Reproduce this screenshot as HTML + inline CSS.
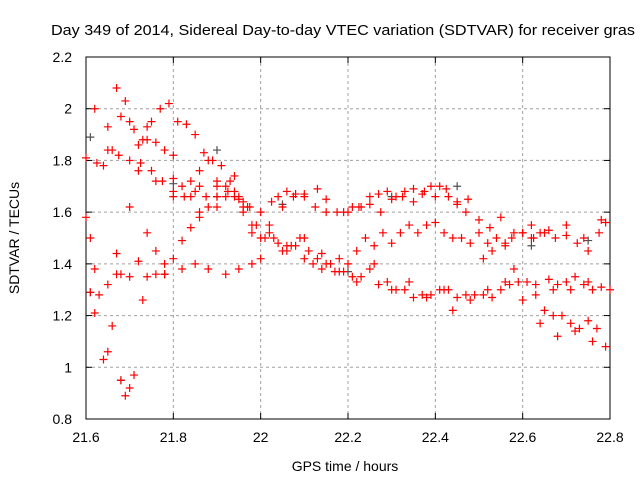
<!DOCTYPE html>
<html><head><meta charset="utf-8"><style>
body{margin:0;background:#fff;}
svg{display:block;font-family:"Liberation Sans",sans-serif;}
</style></head><body>
<svg id="chart" width="640" height="480">
<text x="51" y="35" font-size="15" textLength="584" lengthAdjust="spacingAndGlyphs" fill="#000">Day 349 of 2014, Sidereal Day-to-day VTEC variation (SDTVAR) for receiver gras</text>
<g id="grid"></g>
<g id="ticks"></g>
<rect x="86" y="57" width="524" height="362" fill="none" stroke="#000" stroke-width="1"/>
<g id="marks"></g>
<text x="345" y="471" font-size="14" text-anchor="middle">GPS time / hours</text>
<text transform="translate(19,238) rotate(-90)" font-size="14" text-anchor="middle">SDTVAR / TECUs</text>
</svg>
<script>
const xTicks=[21.6,21.8,22,22.2,22.4,22.6,22.8];
const xTickLabels=["21.6","21.8","22","22.2","22.4","22.6","22.8"];
const yTicks=[0.8,1,1.2,1.4,1.6,1.8,2,2.2];
const yTickLabels=["0.8","1","1.2","1.4","1.6","1.8","2","2.2"];
const s1x=[21.62,21.65,21.67,21.69,21.71,21.73,21.75,21.77,21.79,21.81,21.83,21.85,21.87,21.89,21.91,21.93,21.95,21.97,21.99,22.01,22.03,22.05,22.07,22.09,22.11,22.13,22.15,22.17,22.19,22.21,22.23,22.25,22.27,22.29,22.31,22.33,22.35,22.37,22.39,22.41,22.43,22.45,22.47,22.49,22.51,22.53,22.55,22.57,22.59,22.61,22.63,22.65,22.67,22.69,22.71,22.73,22.75,22.77,22.79];
const s1y=[2.0,1.93,2.08,2.03,1.92,1.88,1.95,2.0,2.02,1.95,1.94,1.9,1.83,1.8,1.78,1.72,1.65,1.62,1.55,1.5,1.5,1.45,1.47,1.5,1.45,1.42,1.4,1.37,1.37,1.35,1.35,1.38,1.32,1.33,1.3,1.3,1.27,1.28,1.28,1.3,1.3,1.27,1.28,1.28,1.28,1.27,1.3,1.32,1.33,1.33,1.28,1.22,1.2,1.2,1.17,1.15,1.18,1.15,1.08];
const s2x=[21.6,21.625,21.65,21.675,21.7,21.725,21.75,21.775,21.8,21.825,21.85,21.875,21.9,21.925,21.95,21.975,22.0,22.025,22.05,22.075,22.1,22.125,22.15,22.175,22.2,22.225,22.25,22.275,22.3,22.325,22.35,22.375,22.4,22.425,22.45,22.475,22.5,22.525,22.55,22.575,22.6,22.625,22.65,22.675,22.7,22.725,22.75,22.775,22.79];
const s2y=[1.81,1.79,1.84,1.82,1.8,1.79,1.76,1.72,1.68,1.66,1.68,1.66,1.7,1.68,1.66,1.62,1.6,1.64,1.62,1.66,1.66,1.62,1.65,1.6,1.6,1.62,1.63,1.6,1.65,1.66,1.64,1.68,1.66,1.69,1.63,1.65,1.57,1.54,1.58,1.5,1.52,1.5,1.52,1.5,1.51,1.48,1.45,1.52,1.56];
const s3x=[21.6,21.61,21.62,21.63,21.64,21.65,21.66,21.67,21.68,21.7,21.72,21.74,21.76,21.78,21.8,21.82,21.84,21.86,21.88,21.9,21.92,21.94,21.96,21.98,22.0,22.02,22.04,22.06,22.08,22.1,22.12,22.14,22.16,22.18,22.2,22.22,22.24,22.26,22.28,22.3,22.32,22.34,22.36,22.38,22.4,22.42,22.44,22.46,22.48,22.5,22.52,22.54,22.56,22.58,22.6,22.62,22.64,22.66,22.68,22.7,22.72,22.74,22.76,22.78];
const s3y=[1.58,1.5,1.38,1.28,1.03,1.06,1.16,1.44,1.36,1.35,1.41,1.35,1.45,1.4,1.42,1.49,1.54,1.58,1.62,1.66,1.7,1.66,1.6,1.55,1.5,1.52,1.48,1.45,1.47,1.42,1.4,1.38,1.4,1.42,1.4,1.45,1.5,1.47,1.52,1.48,1.52,1.55,1.52,1.55,1.56,1.52,1.5,1.5,1.48,1.52,1.48,1.5,1.48,1.52,1.52,1.5,1.52,1.34,1.32,1.33,1.35,1.32,1.3,1.31];
const s4x=[21.61,21.62,21.65,21.67,21.68,21.69,21.7,21.71,21.73,21.76,21.78,21.82,21.85,21.88,21.92,21.95,21.98,22.0,21.74,21.76,21.8,21.84,21.86,21.9,21.94];
const s4y=[1.29,1.21,1.32,1.36,0.95,0.89,0.92,0.97,1.26,1.36,1.36,1.38,1.4,1.38,1.36,1.38,1.4,1.42,1.93,1.87,1.73,1.66,1.7,1.62,1.74];
const s5x=[22.04,22.06,22.08,22.1,22.13,22.15,22.19,22.21,22.23,22.25,22.27,22.29,22.31,22.33,22.35,22.37,22.39,22.41,22.43,22.45,22.47,22.51,22.53,22.56,22.58,22.62,22.66,22.7,22.74,22.78];
const s5y=[1.66,1.68,1.67,1.67,1.69,1.6,1.6,1.62,1.62,1.66,1.67,1.68,1.66,1.68,1.69,1.67,1.7,1.7,1.66,1.64,1.6,1.42,1.45,1.47,1.38,1.55,1.53,1.55,1.5,1.57];
const s6x=[21.98,22.02,22.06,22.1,22.14,22.18,22.22,22.26,22.3,22.34,22.38,22.42,22.44,22.48,22.52,22.56,22.6,22.64,22.68,22.72,22.76,22.63,22.67,22.71,22.75,22.8];
const s6y=[1.52,1.55,1.47,1.5,1.44,1.37,1.33,1.4,1.3,1.33,1.27,1.3,1.22,1.26,1.3,1.33,1.26,1.17,1.12,1.14,1.1,1.32,1.3,1.3,1.33,1.3];
const s7x=[21.64,21.66,21.68,21.7,21.72,21.74,21.78,21.8,21.82,21.84,21.86,21.88,21.9,21.92,21.94,21.96,21.72,21.76,21.8,21.86,21.9,21.96,21.7,21.74,21.78];
const s7y=[1.78,1.84,1.97,1.95,1.86,1.88,1.84,1.82,1.7,1.72,1.76,1.8,1.72,1.66,1.68,1.62,1.76,1.72,1.66,1.6,1.66,1.64,1.62,1.52,1.36];
const g1x=[21.61,21.61,21.68,21.78,21.8,21.9,22.05,22.2,22.45,22.62,22.75,22.3];
const g1y=[1.89,1.29,0.95,1.36,1.71,1.84,1.63,1.37,1.7,1.47,1.49,1.66];
const X=v=>86+(v-21.6)/1.2*524;
const Y=v=>419-(v-0.8)/1.4*362;
const NS="http://www.w3.org/2000/svg";
const grid=document.getElementById('grid'),ticks=document.getElementById('ticks'),marks=document.getElementById('marks');
function mk(tag,attrs,parent){const e=document.createElementNS(NS,tag);for(const k in attrs)e.setAttribute(k,attrs[k]);parent.appendChild(e);return e;}
xTicks.forEach((t,i)=>{const x=X(t);
 if(i>0&&i<xTicks.length-1){const g=mk('line',{x1:x,x2:x,y1:57,y2:419,stroke:'#a0a0a0','stroke-dasharray':'3,3'},grid);
 
 }
 mk('line',{x1:x,x2:x,y1:419,y2:413,stroke:'#000'},ticks);mk('line',{x1:x,x2:x,y1:57,y2:63,stroke:'#000'},ticks);
 const l=mk('text',{x:x,y:442,'font-size':14,'text-anchor':'middle'},ticks);l.textContent=xTickLabels[i];
 
 });
yTicks.forEach((t,i)=>{const y=Y(t);
 if(i>0&&i<yTicks.length-1){const g=mk('line',{x1:86,x2:610,y1:y,y2:y,stroke:'#a0a0a0','stroke-dasharray':'3,3'},grid);
 
 }
 mk('line',{x1:86,x2:92,y1:y,y2:y,stroke:'#000'},ticks);mk('line',{x1:604,x2:610,y1:y,y2:y,stroke:'#000'},ticks);
 const l=mk('text',{x:72,y:y+5,'font-size':14,'text-anchor':'end'},ticks);l.textContent=yTickLabels[i];
 
 });
function plus(xs,ys,color,name){for(let i=0;i<xs.length;i++){const x=X(xs[i]),y=Y(ys[i]);
 const p=mk('path',{d:`M${x-4},${y}H${x+4}M${x},${y-4}V${y+4}`,stroke:color,'stroke-width':1.2,fill:'none'},marks);
 
 }}
plus(g1x,g1y,'#505050','point-gray');
plus(s1x,s1y,'#ff0000','point-track-1');
plus(s2x,s2y,'#ff0000','point-track-2');
plus(s3x,s3y,'#ff0000','point-track-3');
plus(s4x,s4y,'#ff0000','point-track-4');
plus(s5x,s5y,'#ff0000','point-track-5');
plus(s6x,s6y,'#ff0000','point-track-6');
plus(s7x,s7y,'#ff0000','point-track-7');
</script>
</body></html>
